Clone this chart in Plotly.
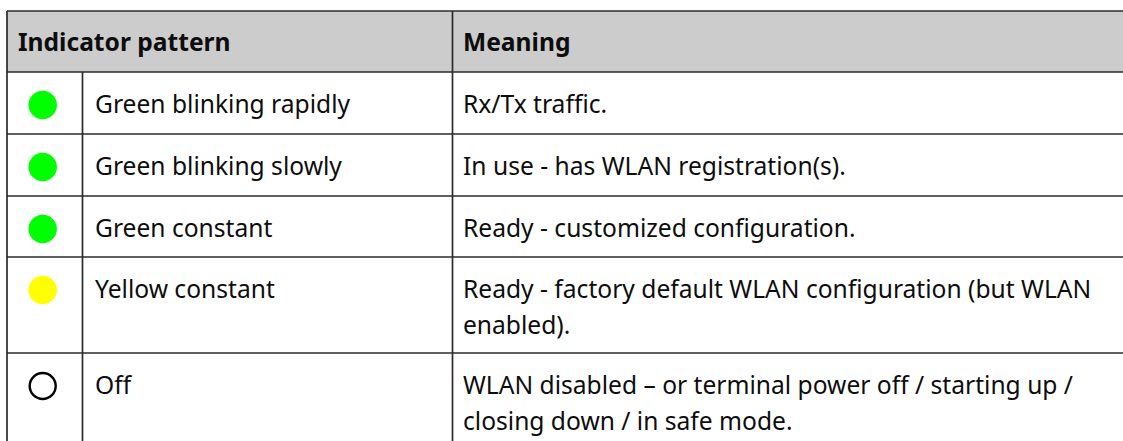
import plotly.graph_objects as go

# ---- data ----
header_labels = ["Indicator pattern", "Meaning"]
patterns = ["Green blinking rapidly", "Green blinking slowly", "Green constant",
            "Yellow constant", "Off"]
meanings = [
    "Rx/Tx traffic.",
    "In use - has WLAN registration(s).",
    "Ready - customized configuration.",
    "Ready - factory default WLAN configuration (but WLAN<br>enabled).",
    "WLAN disabled \u2013 or terminal power off / starting up /<br>closing down / in safe mode.",
]
indicator_fill = ["#00ff00", "#00ff00", "#00ff00", "#ffff00", "#ffffff"]
indicator_line = ["#00ff00", "#00ff00", "#00ff00", "#ffff00", "#000000"]
indicator_line_w = [0, 0, 0, 0, 2.4]
indicator_size = [28.5, 28.5, 28.5, 28.5, 26]

# ---- layout constants (pixels) ----
W, H = 1123, 441
left, right = 7, 1135
top, header_bottom = 11, 72
row_bottoms = [134, 196, 257, 353, 470]
col1, col2 = 82.5, 452.5
text_offset = 31.5
circle_offset = 33
line_pitch = 35.5
FONT = "Noto Sans"
FS = 24.6
LINE_COL = "#2b2b2b"
TXT_COL = "#0d0d0d"

fig = go.Figure()
shapes = []
annotations = []

# header background
shapes.append(dict(type="rect", x0=left, x1=right, y0=top, y1=header_bottom,
                   fillcolor="#cccccc", line=dict(width=0), layer="below"))
# horizontal lines
for y in [top, header_bottom] + row_bottoms[:-1]:
    shapes.append(dict(type="line", x0=left, x1=right, y0=y, y1=y,
                       line=dict(color=LINE_COL, width=1.7)))
# vertical lines
for x, y0 in [(left, top), (col2, top), (col1, header_bottom)]:
    shapes.append(dict(type="line", x0=x, x1=x, y0=y0, y1=H + 30,
                       line=dict(color=LINE_COL, width=1.7)))

# header text
hy = (top + header_bottom) / 2
for x, lab in zip([16, col2 + 8.5], header_labels):
    annotations.append(dict(x=x, y=hy, text="<b>" + lab + "</b>", showarrow=False,
                            xanchor="left", yanchor="middle",
                            font=dict(family=FONT, size=FS, color=TXT_COL)))

row_tops = [header_bottom] + row_bottoms[:-1]
cy = []
for i, (p, m) in enumerate(zip(patterns, meanings)):
    y0 = row_tops[i] + text_offset
    cy.append(row_tops[i] + circle_offset)
    annotations.append(dict(x=92.5, y=y0, text=p, showarrow=False,
                            xanchor="left", yanchor="middle",
                            font=dict(family=FONT, size=FS, color=TXT_COL)))
    for j, line in enumerate(m.split("<br>")):
        annotations.append(dict(x=col2 + 8.5, y=y0 + j * line_pitch, text=line,
                                showarrow=False, xanchor="left", yanchor="middle",
                                font=dict(family=FONT, size=FS, color=TXT_COL)))

fig.add_trace(go.Scatter(
    x=[42.7] * len(patterns), y=cy, mode="markers", opacity=1,
    marker=dict(size=indicator_size, color=indicator_fill, opacity=1,
                line=dict(color=indicator_line, width=indicator_line_w)),
    hoverinfo="skip", showlegend=False))

fig.update_layout(
    width=W, height=H, margin=dict(l=0, r=0, t=0, b=0),
    paper_bgcolor="white", plot_bgcolor="white",
    xaxis=dict(range=[0, W], visible=False, fixedrange=True),
    yaxis=dict(range=[H, 0], visible=False, fixedrange=True),
    shapes=shapes, annotations=annotations,
)

fig.write_html("out.html", config={"displayModeBar": False},
               post_script="document.body.style.margin='0';document.body.style.overflow='hidden';")
